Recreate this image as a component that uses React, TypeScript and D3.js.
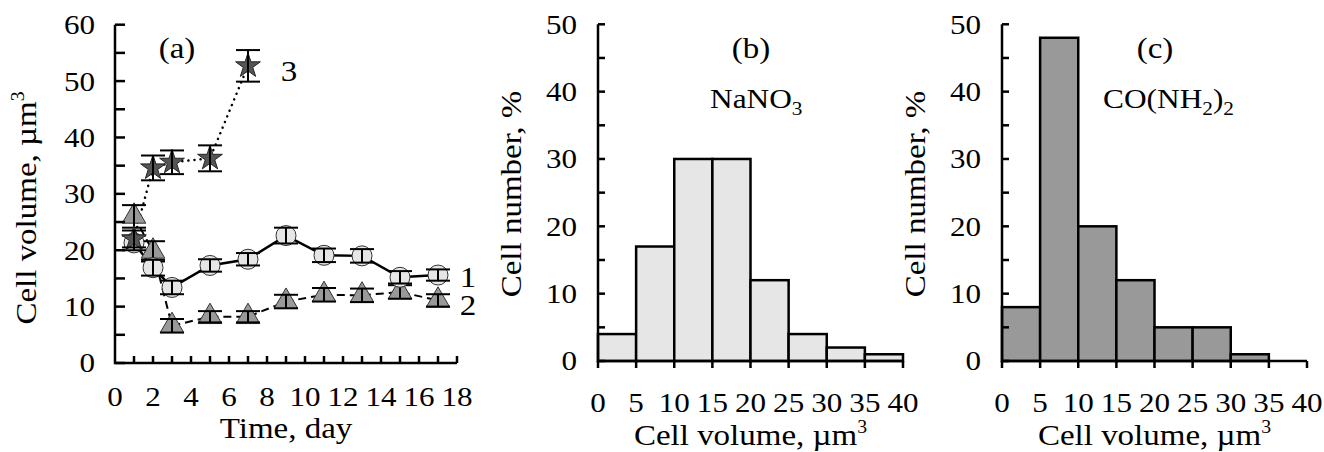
import React from "react";
import * as d3 from "d3";

// ---------- Data ----------
const days1 = [1, 2, 3, 5, 7, 9, 11, 13, 15, 17];
const vol1 = [21.3, 16.9, 13.4, 17.3, 18.4, 22.6, 19.1, 19.0, 15.2, 15.6];
const err1 = [1.3, 1.4, 1.2, 1.1, 1.1, 1.4, 1.2, 1.2, 1.1, 1.0];

const days2 = [1, 2, 3, 5, 7, 9, 11, 13, 15, 17];
const vol2 = [26.0, 19.8, 6.6, 8.2, 8.2, 10.9, 12.1, 12.0, 12.6, 11.1];
const err2 = [2.0, 1.8, 1.2, 1.0, 1.0, 1.2, 1.2, 1.2, 1.2, 1.1];

const days3 = [1, 2, 3, 5, 7];
const vol3 = [22.0, 34.6, 35.6, 36.3, 52.7];
const err3 = [1.5, 2.2, 2.1, 2.3, 2.8];

const binEdges = [0, 5, 10, 15, 20, 25, 30, 35, 40];
const pctNaNO3 = [4, 17, 30, 30, 12, 4, 2, 1];
const pctUrea = [8, 48, 20, 12, 5, 5, 1, 0];

const ticksA_x = [0, 2, 4, 6, 8, 10, 12, 14, 16, 18];
const ticksA_y = [0, 10, 20, 30, 40, 50, 60];
const ticksH_x = [0, 5, 10, 15, 20, 25, 30, 35, 40];
const ticksH_y = [0, 10, 20, 30, 40, 50];

const FONT = "'Liberation Serif', 'Times New Roman', serif";
const TICK_FS = 27;
const TICK_SX = 1.15;
const TITLE_FS = 30;
const TITLE_SX = 1.1;

function T({
  x, y, size, sx, anchor = "middle", rotate = false, dy, children,
}: {
  x: number; y: number; size: number; sx: number; anchor?: string; rotate?: boolean; dy?: string;
  children: React.ReactNode;
}) {
  return (
    <text
      transform={`translate(${x},${y})${rotate ? " rotate(-90)" : ""} scale(${sx},1)`}
      textAnchor={anchor as any}
      fontFamily={FONT}
      fontSize={size}
      dy={dy}
      fill="#000"
    >
      {children}
    </text>
  );
}

function PanelA() {
  const x = d3.scaleLinear().domain([0, 18]).range([115, 457]);
  const y = d3.scaleLinear().domain([0, 60]).range([363, 24.7]);
  const mk = (ds: number[], vs: number[]) =>
    d3.line<number>().x((_, i) => x(ds[i])).y((v) => y(v))(vs) || "";
  const triangle = d3.symbol(d3.symbolTriangle, 240)() || "";
  const star = d3.symbol(d3.symbolStar, 190)() || "";
  const capW = 12;
  const errBar = (cx: number, v: number, e: number, key: string) => (
    <g key={key} stroke="#000" strokeWidth={2}>
      <line x1={cx} x2={cx} y1={y(v - e)} y2={y(v + e)} />
      <line x1={cx - capW} x2={cx + capW} y1={y(v - e)} y2={y(v - e)} />
      <line x1={cx - capW} x2={cx + capW} y1={y(v + e)} y2={y(v + e)} />
    </g>
  );
  const minorX = d3.range(1, 19);
  const minorY = d3.range(0, 61, 5);
  return (
    <g>
      <path d={mk(days2, vol2)} fill="none" stroke="#000" strokeWidth={2} strokeDasharray="8,5" />
      <path d={mk(days3, vol3)} fill="none" stroke="#000" strokeWidth={2.5} strokeDasharray="0.1,6" strokeLinecap="round" />
      <path d={mk(days1, vol1)} fill="none" stroke="#000" strokeWidth={2.5} />
      {vol2.map((v, i) => (
        <g key={"t" + i}>
          <path d={triangle} transform={`translate(${x(days2[i])},${y(v)})`} fill="#999" stroke="#333" strokeWidth={1} />
          {errBar(x(days2[i]), v, err2[i], "et" + i)}
        </g>
      ))}
      {vol1.map((v, i) => (
        <g key={"c" + i}>
          <circle cx={x(days1[i])} cy={y(v)} r={10} fill="#e6e6e6" stroke="#333" strokeWidth={1} />
          {errBar(x(days1[i]), v, err1[i], "ec" + i)}
        </g>
      ))}
      {vol3.map((v, i) => (
        <g key={"s" + i}>
          <path d={star} transform={`translate(${x(days3[i])},${y(v)})`} fill="#555" stroke="#222" strokeWidth={1} />
          {errBar(x(days3[i]), v, err3[i], "es" + i)}
        </g>
      ))}
      <g stroke="#000" strokeWidth={2.5} fill="none">
        <path d={`M${x(0)},${y(60)}V${y(0)}H${x(18)}`} />
        {minorY.map((t) => (
          <line key={"my" + t} x1={x(0)} x2={x(0) + 10} y1={y(t)} y2={y(t)} />
        ))}
        {minorX.map((t) => (
          <line key={"mx" + t} x1={x(t)} x2={x(t)} y1={y(0)} y2={y(0) - 7} />
        ))}
      </g>
      {ticksA_y.map((t) => (
        <T key={"ly" + t} x={x(0) - 20} y={y(t)} size={TICK_FS} sx={TICK_SX} anchor="end" dy="0.35em">{t}</T>
      ))}
      {ticksA_x.map((t) => (
        <T key={"lx" + t} x={x(t)} y={406} size={TICK_FS} sx={TICK_SX}>{t}</T>
      ))}
      <T x={x(9)} y={438} size={TITLE_FS} sx={TITLE_SX}>Time, day</T>
      <T x={36} y={208} size={TITLE_FS} sx={TITLE_SX} rotate>
        Cell volume, µm<tspan fontSize={18} dy={-12}>3</tspan>
      </T>
      <T x={177} y={58} size={TITLE_FS} sx={TITLE_SX}>(a)</T>
      <T x={289} y={81} size={TITLE_FS} sx={TITLE_SX}>3</T>
      <T x={468} y={287} size={TITLE_FS} sx={TITLE_SX}>1</T>
      <T x={468} y={315} size={TITLE_FS} sx={TITLE_SX}>2</T>
    </g>
  );
}

function Histogram({
  x0, pct, fill, label, children,
}: { x0: number; pct: number[]; fill: string; label: string; children: React.ReactNode }) {
  const x = d3.scaleLinear().domain([0, 40]).range([x0, x0 + 305]);
  const y = d3.scaleLinear().domain([0, 50]).range([361, 24.3]);
  const minorY = d3.range(0, 51, 5);
  return (
    <g>
      {pct.map((p, i) =>
        p > 0 ? (
          <rect key={i} x={x(binEdges[i])} y={y(p)} width={x(binEdges[i + 1]) - x(binEdges[i])} height={y(0) - y(p)}
            fill={fill} stroke="#000" strokeWidth={2.5} />
        ) : null
      )}
      <g stroke="#000" strokeWidth={2.5} fill="none">
        <path d={`M${x(0)},${y(50)}V${y(0)}H${x(40)}`} />
        {minorY.map((t) => (
          <line key={"my" + t} x1={x(0)} x2={x(0) + 7} y1={y(t)} y2={y(t)} />
        ))}
        {ticksH_x.map((t) => (
          <line key={"mx" + t} x1={x(t)} x2={x(t)} y1={y(0)} y2={y(0) + 7} />
        ))}
      </g>
      {ticksH_y.map((t) => (
        <T key={"ly" + t} x={x(0) - 21} y={y(t)} size={TICK_FS} sx={TICK_SX} anchor="end" dy="0.35em">{t}</T>
      ))}
      {ticksH_x.map((t) => (
        <T key={"lx" + t} x={x(t)} y={412} size={TICK_FS} sx={TICK_SX}>{t}</T>
      ))}
      <T x={x(20)} y={445} size={TITLE_FS} sx={TITLE_SX}>
        Cell volume, µm<tspan fontSize={18} dy={-12}>3</tspan>
      </T>
      <T x={x0 - 77} y={194} size={TITLE_FS} sx={TITLE_SX} rotate>Cell number, %</T>
      <T x={x0 + 153} y={58} size={TITLE_FS} sx={TITLE_SX}>{label}</T>
      {children}
    </g>
  );
}

export default function App() {
  return (
    <svg width={1324} height={452} style={{ position: "absolute", left: 0, top: 0, background: "#fff" }}>
      <rect width={1324} height={452} fill="#fff" />
      <PanelA />
      <Histogram x0={598} pct={pctNaNO3} fill="#e6e6e6" label="(b)">
        <T x={710} y={108} size={28} sx={1.12} anchor="start">
          NaNO<tspan fontSize={19} dy={7}>3</tspan>
        </T>
      </Histogram>
      <Histogram x0={1002} pct={pctUrea} fill="#999" label="(c)">
        <T x={1103} y={108} size={28} sx={1.12} anchor="start">
          CO(NH<tspan fontSize={19} dy={7}>2</tspan><tspan dy={-7}>)</tspan><tspan fontSize={19} dy={7}>2</tspan>
        </T>
      </Histogram>
    </svg>
  );
}
